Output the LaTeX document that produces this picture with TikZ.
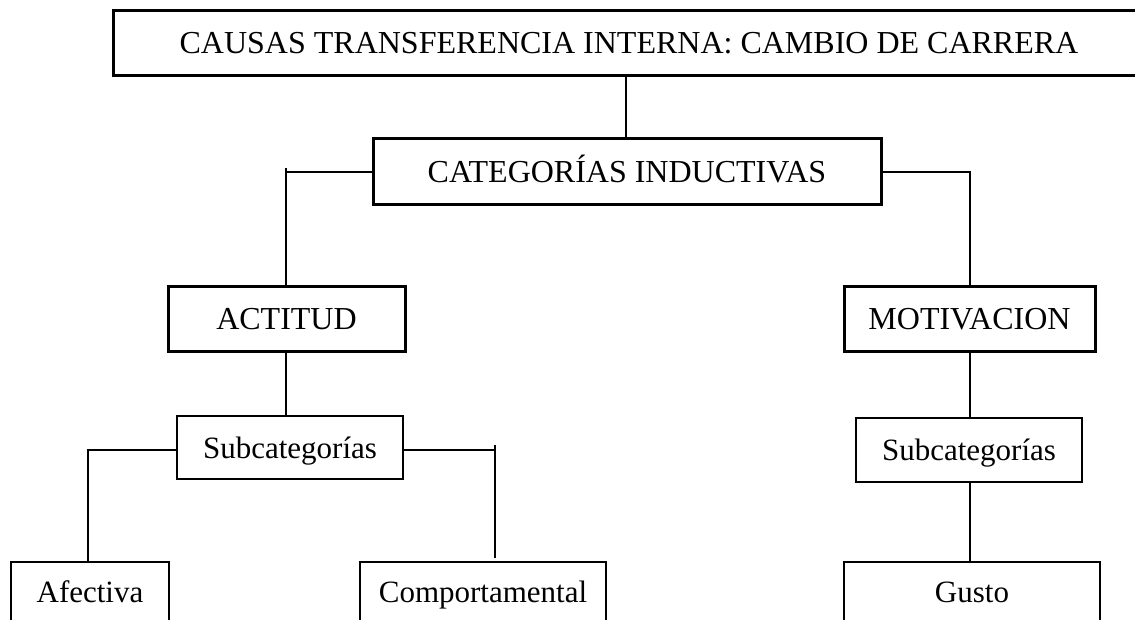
\documentclass[tikz,border=0pt]{standalone}
\usepackage{fontspec}
\setmainfont{Liberation Serif}
\begin{document}
\begin{tikzpicture}[x=1pt,y=-1pt,
  boxbase/.style={draw=black,inner sep=0pt,anchor=center,text height=21pt,text depth=0pt},
  thickbox/.style={boxbase,line width=3pt,font=\fontsize{32}{38}\selectfont},
  thinbox/.style={boxbase,line width=1.4pt,font=\fontsize{31}{37}\selectfont},
  link/.style={draw=black,line width=1.3pt}]
\useasboundingbox (0,0) rectangle (1135,620);
\node[thickbox,minimum width=1032pt,minimum height=65pt] (top) at (629,43.5) {CAUSAS TRANSFERENCIA INTERNA: CAMBIO DE CARRERA};
\node[thickbox,minimum width=508pt,minimum height=66pt] (cat) at (627,172) {CATEGORÍAS INDUCTIVAS};
\node[thickbox,minimum width=237pt,minimum height=64pt] (act) at (286.5,319) {ACTITUD};
\node[thickbox,minimum width=251pt,minimum height=64pt] (mot) at (969.5,319) {MOTIVACION};
\node[thinbox,minimum width=226pt,minimum height=63pt] (subA) at (290,447.5) {Subcategorías};
\node[thinbox,minimum width=226pt,minimum height=64pt] (subM) at (969,450) {Subcategorías};
\node[thinbox,minimum width=158pt,minimum height=60pt] (afe) at (90,592) {Afectiva};
\node[thinbox,minimum width=246pt,minimum height=60pt] (com) at (483,592) {Comportamental};
\node[thinbox,minimum width=256pt,minimum height=60pt] (gus) at (972,592) {Gusto};
\coordinate (tl) at (286,172);
\coordinate (tr) at (970,172);
\coordinate (sl) at (88,450);
\coordinate (sr) at (495,450);
\coordinate (srb) at (495,558);
\path[link] (top.south -| 626,0) -- (cat.north -| 626,0);
\path[link] (cat.west |- tl) -- (tl) -- (tl |- act.north);
\path[link] (tl) -- ++(0,-4);
\path[link] (cat.east |- tr) -- (tr) -- (tr |- mot.north);
\path[link] (act.south -| tl) -- (subA.north -| tl);
\path[link] (subA.west |- sl) -- (sl) -- (sl |- afe.north);
\path[link] (subA.east |- sr) -- (sr) -- (srb);
\path[link] (sr) -- ++(0,-5);
\path[link] (mot.south -| tr) -- (subM.north -| tr);
\path[link] (subM.south -| tr) -- (gus.north -| tr);
\end{tikzpicture}
\end{document}
